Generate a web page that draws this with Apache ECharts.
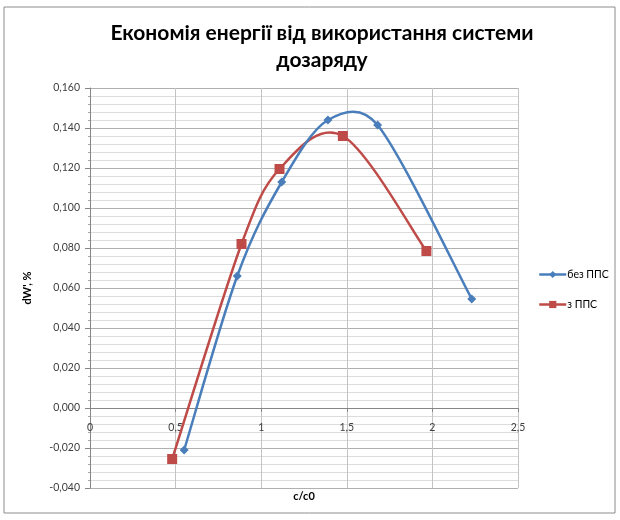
<!DOCTYPE html>
<html>
<head>
<meta charset="utf-8">
<script src="https://cdn.jsdelivr.net/npm/echarts@6/dist/echarts.min.js"></script>
<style>
  html, body { margin: 0; padding: 0; background: #fff; }
  #chart { width: 620px; height: 520px; }
</style>
</head>
<body>
<div id="chart"></div>
<script>
// Relative ratio c/c0 and energy saving dW', % for both configurations
const seriesNames = ['без ППС', 'з ППС'];
const xNoPps = [0.55, 0.86, 1.12, 1.39, 1.68, 2.23];
const yNoPps = [-0.021, 0.066, 0.113, 0.144, 0.1415, 0.0545];
const xPps = [0.48, 0.885, 1.107, 1.477, 1.965];
const yPps = [-0.0255, 0.082, 0.1195, 0.136, 0.0785];

const titleText = 'Економія енергії від використання системи\nдозаряду';
const xAxisName = 'c/c0';
const yAxisName = "dW', %";

const FONT = 'Lato, "Open Sans", sans-serif';
const BLUE = '#4a7ebb';
const RED = '#be4b48';
const Y_MIN = -0.04;
const Y_MAX = 0.16;

function pairs(xs, ys) {
  return xs.map((x, i) => [x, ys[i]]);
}

// Smooth curve segment i -> i+1 as a cubic Bezier (Catmull-Rom style tangents,
// with the control arm kept shorter than half the segment).
function segmentRenderer(xs, ys, color) {
  return function (params, api) {
    const i = params.dataIndex;
    const n = xs.length;
    if (i >= n - 1) return null;
    const P = k => {
      const j = Math.max(0, Math.min(n - 1, k));
      return api.coord([xs[j], ys[j]]);
    };
    const p0 = P(i - 1), p1 = P(i), p2 = P(i + 1), p3 = P(i + 2);
    const segLen = Math.hypot(p2[0] - p1[0], p2[1] - p1[1]);
    function arm(a, b) {
      let dx = (b[0] - a[0]) / 6, dy = (b[1] - a[1]) / 6;
      const len = Math.hypot(dx, dy);
      const lim = 0.5 * segLen;
      if (len > lim && len > 0) { dx *= lim / len; dy *= lim / len; }
      return [dx, dy];
    }
    const a1 = arm(p0, p2);
    const a2 = arm(p1, p3);
    return {
      type: 'bezierCurve',
      shape: {
        x1: p1[0], y1: p1[1],
        cpx1: p1[0] + a1[0], cpy1: p1[1] + a1[1],
        cpx2: p2[0] - a2[0], cpy2: p2[1] - a2[1],
        x2: p2[0], y2: p2[1]
      },
      style: { fill: null, stroke: color, lineWidth: 2.5 },
      silent: true
    };
  };
}

const chart = echarts.init(document.getElementById('chart'), null, { renderer: 'canvas' });

chart.setOption({
  animation: false,
  backgroundColor: '#ffffff',
  graphic: [{
    type: 'rect',
    shape: { x: 4, y: 7, width: 611, height: 506 },
    style: { fill: 'none', stroke: '#8c8c8c', lineWidth: 1 },
    silent: true
  }],
  title: {
    text: titleText,
    left: 317,
    textAlign: 'center',
    top: 15,
    textStyle: {
      fontFamily: FONT,
      fontWeight: 'bold',
      fontSize: 21,
      lineHeight: 27,
      color: '#000'
    }
  },
  legend: {
    orient: 'vertical',
    left: 533,
    top: 264,
    itemGap: 19,
    itemWidth: 27,
    itemHeight: 9,
    textStyle: { fontFamily: FONT, fontSize: 10.5, color: '#000', padding: [0, 0, 0, -4] },
    data: [
      { name: seriesNames[0], lineStyle: { color: BLUE, width: 2.5, opacity: 1 } },
      { name: seriesNames[1], lineStyle: { color: RED, width: 2.5, opacity: 1 } }
    ]
  },
  grid: { left: 90, right: 102, top: 88, bottom: 32, outerBoundsMode: 'none', containLabel: false },
  xAxis: {
    type: 'value',
    min: 0,
    max: 2.5,
    interval: 0.5,
    name: xAxisName,
    nameLocation: 'middle',
    nameGap: 83,
    nameTextStyle: { fontFamily: FONT, fontWeight: 'bold', fontSize: 11, color: '#000' },
    axisLine: { onZero: false, lineStyle: { color: '#868686' } },
    axisTick: { show: true, inside: false, length: 4, lineStyle: { color: '#868686' } },
    axisLabel: {
      fontFamily: FONT, fontSize: 10.5, color: '#404040', margin: 14,
      formatter: v => String(v).replace('.', ',')
    },
    splitLine: { show: true, lineStyle: { color: '#c4c4c4', width: 1 } }
  },
  yAxis: {
    type: 'value',
    min: Y_MIN,
    max: Y_MAX,
    interval: 0.02,
    name: yAxisName,
    nameLocation: 'middle',
    nameGap: 57,
    nameTextStyle: { fontFamily: FONT, fontWeight: 'bold', fontSize: 11, color: '#000' },
    axisLine: { show: true, onZero: false, lineStyle: { color: '#868686' } },
    axisTick: { show: true, length: 5, lineStyle: { color: '#868686' } },
    minorTick: { show: true, splitNumber: 5, length: 2, lineStyle: { color: '#a6a6a6' } },
    axisLabel: {
      fontFamily: FONT, fontSize: 10.5, color: '#404040', margin: 10,
      formatter: v => v.toFixed(3).replace('.', ',')
    },
    splitLine: { show: true, lineStyle: { color: '#b0b0b0', width: 1 } },
    minorSplitLine: { show: true, lineStyle: { color: '#dcdcdc', width: 1 } }
  },
  series: [
    {
      name: seriesNames[0],
      type: 'line',
      data: pairs(xNoPps, yNoPps),
      symbol: 'diamond',
      symbolSize: 9,
      lineStyle: { color: BLUE, width: 2.5, opacity: 0 },
      itemStyle: { color: BLUE },
      z: 5
    },
    {
      name: seriesNames[1],
      type: 'line',
      data: pairs(xPps, yPps),
      symbol: 'rect',
      symbolSize: 10,
      lineStyle: { color: RED, width: 2.5, opacity: 0 },
      itemStyle: { color: RED },
      z: 5
    },
    {
      name: seriesNames[0],
      type: 'custom',
      data: pairs(xNoPps, yNoPps),
      renderItem: segmentRenderer(xNoPps, yNoPps, BLUE),
      z: 3
    },
    {
      name: seriesNames[1],
      type: 'custom',
      data: pairs(xPps, yPps),
      renderItem: segmentRenderer(xPps, yPps, RED),
      z: 2
    }
  ]
});

// The category axis crosses the value axis at dW' = 0: lift it from the plot bottom to that level.
const zeroPx = chart.convertToPixel({ yAxisIndex: 0 }, 0);
const bottomPx = chart.convertToPixel({ yAxisIndex: 0 }, Y_MIN);
chart.setOption({ xAxis: { offset: zeroPx - bottomPx } });
</script>
</body>
</html>
